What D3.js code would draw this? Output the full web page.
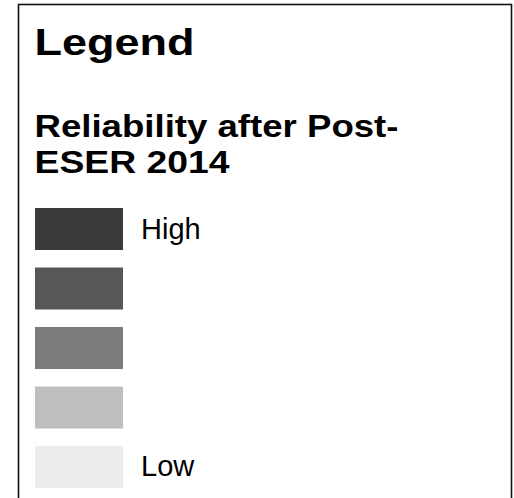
<!DOCTYPE html>
<html>

<head>
    <meta charset="utf-8">
    <title>Legend</title>
    <script type="text/javascript" src="https://cdn.jsdelivr.net/npm/d3@7"></script>
    <style>
        body { margin: 0; background: #fff; }
        text { font-family: "Liberation Sans", Arial, sans-serif; fill: #000; }
    </style>
</head>

<body>
    <svg id="legendSvg"></svg>
</body>

<script>
    // legend classes, darkest first
    let classes = ["c1", "c2", "c3", "c4", "c5"],
        classColors = ["#3a3a3a", "#575757", "#7b7b7b", "#bebebe", "#ececec"],
        classLabels = ["High", "", "", "", "Low"];
    let titleText = "Legend",
        subtitleLines = ["Reliability after Post-", "ESER 2014"];

    let SVGWIDTH = 514, SVGHEIGHT = 498;

    let svg = d3.select("#legendSvg")
        .attr("width", SVGWIDTH).attr("height", SVGHEIGHT);

    // outer box (runs off the bottom of the picture)
    svg.append("rect")
        .attr("x", 18.5).attr("y", 4.5)
        .attr("width", 493).attr("height", 520)
        .attr("fill", "none")
        .attr("stroke", "#111")
        .attr("stroke-width", 1.6);

    // title, slightly stretched horizontally like the scan
    svg.append("text")
        .attr("x", 34.5).attr("y", 54.5)
        .style("font-size", "36px").style("font-weight", "bold")
        .attr("textLength", 160).attr("lengthAdjust", "spacingAndGlyphs")
        .text(titleText);

    let subWidths = [364, 195];
    svg.selectAll(".subtitle")
        .data(subtitleLines)
        .enter().append("text")
        .attr("class", "subtitle")
        .attr("x", 34.5)
        .attr("y", (d, i) => 136.5 + i * 36.5)
        .style("font-size", "30.5px").style("font-weight", "bold")
        .attr("textLength", (d, i) => subWidths[i])
        .attr("lengthAdjust", "spacingAndGlyphs")
        .text(d => d);

    // swatches
    let yScale = d3.scaleBand()
        .domain(classes)
        .range([208, 488])
        .paddingInner(0.294)
        .paddingOuter(0);
    let color = d3.scaleOrdinal().domain(classes).range(classColors);

    svg.selectAll(".swatch")
        .data(classes)
        .enter().append("rect")
        .attr("class", "swatch")
        .attr("x", 35)
        .attr("y", d => yScale(d))
        .attr("width", 88)
        .attr("height", yScale.bandwidth())
        .attr("fill", d => color(d));

    svg.selectAll(".swatchLabel")
        .data(classes)
        .enter().append("text")
        .attr("class", "swatchLabel")
        .attr("x", 141)
        .attr("y", d => yScale(d) + yScale.bandwidth() / 2 + 9.5)
        .style("font-size", "29px")
        .text((d, i) => classLabels[i]);
</script>

</html>
